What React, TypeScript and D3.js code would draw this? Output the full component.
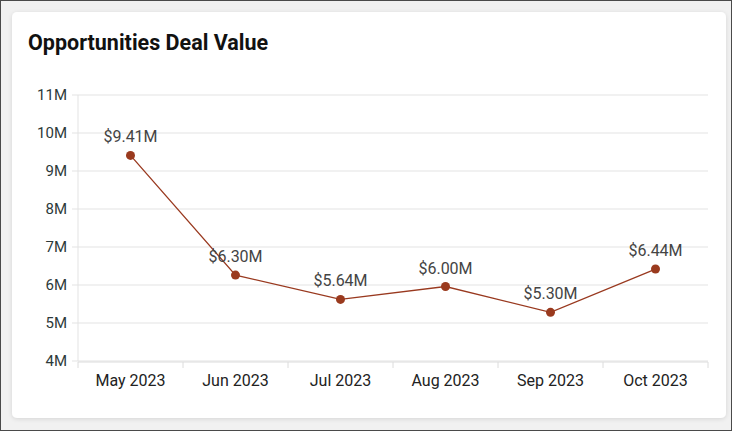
import React from "react";
import * as d3 from "d3";

const months = ["May 2023", "Jun 2023", "Jul 2023", "Aug 2023", "Sep 2023", "Oct 2023"];
const dealValues = [9.41, 6.26, 5.62, 5.96, 5.28, 6.42];
const dealLabels = ["$9.41M", "$6.30M", "$5.64M", "$6.00M", "$5.30M", "$6.44M"];
const yTicks = [4, 5, 6, 7, 8, 9, 10, 11];

const W = 732;
const H = 431;
const left = 78;
const right = 708;
const top = 95;
const bottom = 361;

export default function App() {
  const x = d3.scaleBand<string>().domain(months).range([left, right]);
  const y = d3.scaleLinear().domain([4, 11]).range([bottom, top]);
  const line = d3
    .line<number>()
    .x((_, i) => (x(months[i]) as number) + x.bandwidth() / 2)
    .y((d) => y(d));
  const font = "Roboto, 'Noto Sans', sans-serif";
  const tickEdges = [...months.map((m) => x(m) as number), right];

  return (
    <div style={{ position: "fixed", left: 0, top: 0, width: W, height: H }}>
      <svg width={W} height={H} style={{ display: "block" }} fontFamily={font}>
        <defs>
          <filter id="sh" x="-5%" y="-5%" width="110%" height="110%">
            <feDropShadow dx="0" dy="1" stdDeviation="2" floodColor="#000" floodOpacity="0.12" />
          </filter>
        </defs>
        <rect x={0} y={0} width={W} height={H} fill="#f1f1f1" />
        <rect x={0.5} y={0.5} width={W - 1} height={H - 1} fill="none" stroke="#4a4a4a" strokeWidth={1} />
        <rect x={12} y={12} width={714} height={406} rx={5} fill="#fff" filter="url(#sh)" />
        <text x={28} y={50} fontSize={21.5} fontWeight={700} fill="#111">
          Opportunities Deal Value
        </text>
        {yTicks.map((t) => (
          <g key={t}>
            <line x1={left} x2={right} y1={y(t)} y2={y(t)} stroke="#e3e3e3" strokeWidth={1} />
            <line x1={left - 6} x2={left} y1={y(t)} y2={y(t)} stroke="#e3e3e3" strokeWidth={1} />
            <text x={67} y={y(t)} dy="0.35em" textAnchor="end" fontSize={15} fill="#2d3a3a">
              {t}M
            </text>
          </g>
        ))}
        <line x1={left} x2={left} y1={top} y2={bottom} stroke="#e3e3e3" strokeWidth={1} />
        <line x1={left} x2={right} y1={bottom + 1} y2={bottom + 1} stroke="#dcdcdc" strokeWidth={1} />
        {tickEdges.map((tx, i) => (
          <line key={i} x1={tx} x2={tx} y1={bottom + 1} y2={bottom + 7} stroke="#dcdcdc" strokeWidth={1} />
        ))}
        {months.map((m) => (
          <text
            key={m}
            x={(x(m) as number) + x.bandwidth() / 2}
            y={386}
            textAnchor="middle"
            fontSize={16}
            fill="#222"
          >
            {m}
          </text>
        ))}
        <path d={line(dealValues) || ""} fill="none" stroke="#99391f" strokeWidth={1.3} />
        {dealValues.map((v, i) => (
          <g key={i}>
            <circle cx={(x(months[i]) as number) + x.bandwidth() / 2} cy={y(v)} r={4.5} fill="#9a3a1e" />
            <text
              x={(x(months[i]) as number) + x.bandwidth() / 2}
              y={y(v) - 13}
              textAnchor="middle"
              fontSize={16}
              fill="#444"
            >
              {dealLabels[i]}
            </text>
          </g>
        ))}
      </svg>
    </div>
  );
}
